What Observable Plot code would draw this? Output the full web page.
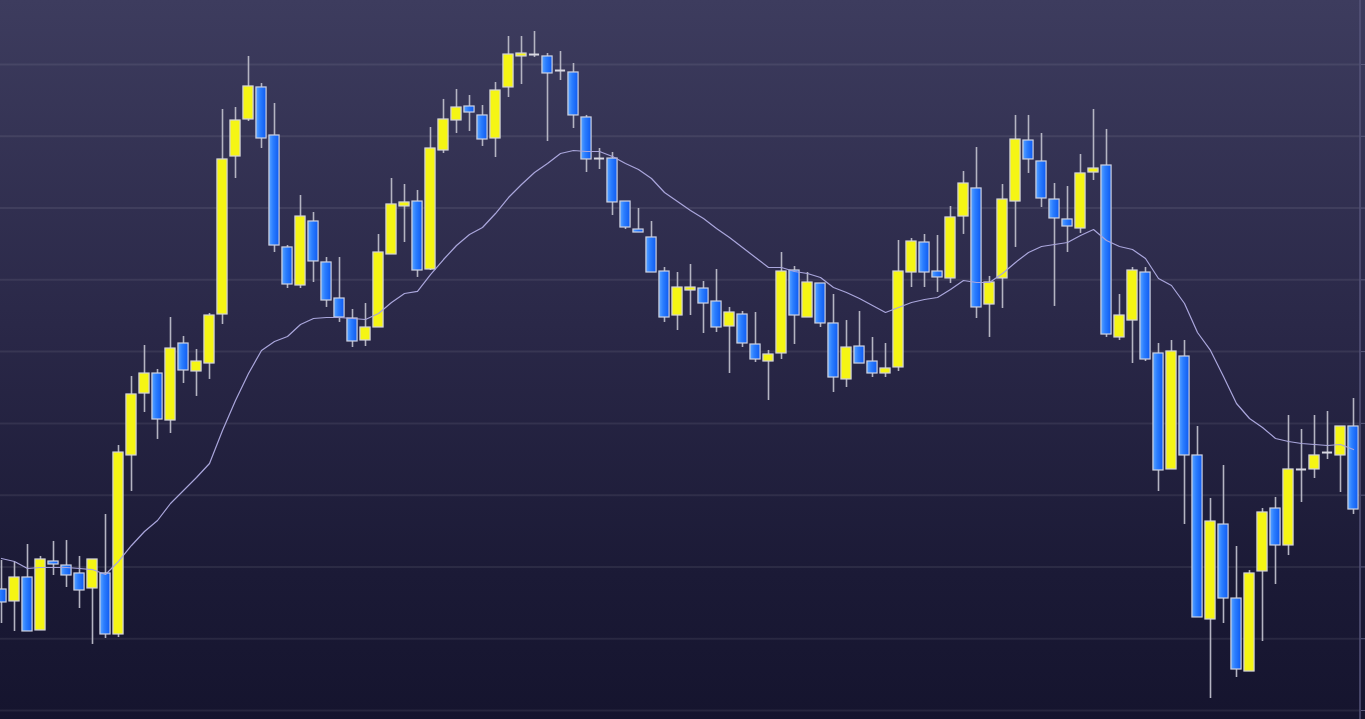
<!DOCTYPE html>
<html>
<head>
<meta charset="utf-8">
<script src="https://cdn.jsdelivr.net/npm/d3@7"></script>
<script src="https://cdn.jsdelivr.net/npm/@observablehq/plot@0.6"></script>
<style>
  html, body { margin: 0; padding: 0; width: 1365px; height: 719px; overflow: hidden;
    background: linear-gradient(to bottom, #3d3c5e 0%, #2a2848 45%, #1b1a36 80%, #15142e 100%); }
  #chart svg { display: block; }
</style>
</head>
<body>
<div id="chart"></div>
<script>
// ---- data (prices) ----
const opens = [
  116.86, 115.19, 118.53, 111.15, 120.76, 120.20, 119.09, 117.00, 119.09, 110.59,
  135.53, 144.16, 146.95, 140.40, 151.13, 147.23, 148.34, 155.17, 177.18, 182.34,
  186.80, 180.11, 164.51, 159.21, 168.13, 162.42, 157.40, 154.61, 151.55, 153.36,
  163.53, 170.22, 170.91, 161.44, 178.02, 182.20, 184.15, 182.90, 179.69, 186.80,
  191.12, 191.39, 191.12, 189.16, 188.89, 182.62, 176.90, 176.90, 170.91, 167.01,
  165.90, 161.16, 155.03, 158.51, 158.79, 156.98, 153.50, 155.17, 150.99, 148.62,
  149.74, 161.30, 154.75, 159.49, 153.92, 146.12, 150.71, 148.62, 146.95, 147.79,
  161.02, 165.20, 161.16, 160.19, 168.82, 172.73, 156.56, 160.19, 170.91, 179.41,
  176.49, 171.19, 168.41, 167.15, 174.95, 175.93, 151.97, 154.33, 161.02, 149.74,
  133.58, 149.32, 135.53, 112.68, 125.91, 115.60, 105.43, 119.37, 128.14, 122.99,
  133.58, 133.58, 135.94, 135.53, 139.57
];
const highs = [
  120.90, 120.62, 123.13, 121.46, 123.55, 123.68, 121.46, 121.04, 127.31, 136.92,
  146.53, 150.85, 147.51, 154.75, 152.11, 150.29, 155.31, 183.73, 184.01, 191.12,
  187.35, 184.57, 164.78, 171.75, 169.38, 163.11, 163.11, 155.87, 156.70, 166.32,
  174.12, 173.28, 172.45, 181.22, 185.13, 186.52, 185.68, 184.29, 187.49, 193.90,
  193.90, 194.60, 191.53, 191.81, 190.14, 182.90, 178.30, 177.74, 170.91, 169.94,
  168.13, 161.72, 161.02, 162.14, 159.77, 161.44, 156.15, 155.59, 155.45, 150.16,
  163.81, 161.86, 161.02, 159.49, 157.96, 154.33, 155.59, 151.97, 151.13, 165.48,
  165.76, 166.32, 166.18, 170.22, 175.09, 178.44, 160.47, 173.28, 182.90, 182.90,
  180.39, 173.42, 173.00, 177.46, 183.73, 180.95, 157.96, 161.72, 161.72, 151.13,
  151.55, 151.55, 139.57, 129.54, 134.13, 122.85, 119.50, 128.14, 129.68, 141.10,
  139.15, 141.10, 141.66, 139.57, 143.47
];
const lows = [
  112.12, 111.01, 111.01, 111.15, 118.81, 117.14, 114.21, 109.20, 110.03, 110.17,
  130.51, 141.52, 137.76, 138.59, 145.56, 143.75, 146.12, 153.78, 174.12, 182.06,
  178.30, 163.81, 158.79, 158.79, 159.63, 156.15, 154.06, 150.57, 150.71, 153.36,
  163.53, 165.20, 160.33, 161.30, 177.60, 180.39, 180.67, 178.58, 177.04, 185.40,
  187.21, 190.98, 179.27, 187.77, 181.08, 174.95, 175.37, 168.96, 167.01, 166.59,
  161.02, 154.06, 152.94, 155.03, 152.52, 152.66, 146.95, 150.57, 148.48, 143.19,
  148.90, 150.99, 154.75, 153.36, 144.30, 145.00, 148.34, 146.39, 146.39, 147.23,
  158.93, 158.93, 158.24, 159.49, 166.32, 154.61, 151.97, 156.01, 164.51, 174.82,
  170.08, 156.29, 163.81, 166.46, 173.84, 151.97, 151.55, 148.34, 148.62, 130.51,
  133.58, 125.91, 112.96, 101.67, 112.12, 104.60, 105.43, 109.61, 117.55, 121.59,
  128.98, 132.32, 134.97, 130.37, 127.31
];
const closes = [
  115.05, 118.53, 111.01, 121.04, 120.34, 118.81, 116.72, 121.04, 110.59, 135.94,
  144.03, 146.95, 140.54, 150.43, 147.37, 148.62, 155.03, 176.77, 182.20, 186.94,
  179.69, 164.78, 159.35, 168.82, 162.56, 157.12, 154.75, 151.41, 153.36, 163.81,
  170.50, 170.78, 161.30, 178.30, 182.34, 184.01, 183.31, 179.55, 186.38, 191.39,
  191.53, 191.39, 188.75, 189.16, 182.90, 176.77, 176.90, 170.78, 167.29, 166.59,
  161.02, 154.75, 158.93, 158.93, 156.70, 153.36, 155.45, 151.13, 148.90, 149.60,
  161.16, 155.03, 159.63, 153.92, 146.39, 150.57, 148.34, 146.95, 147.65, 161.16,
  165.34, 161.02, 160.33, 168.69, 173.42, 156.15, 159.63, 171.19, 179.55, 176.77,
  171.33, 168.55, 167.43, 174.82, 175.51, 152.38, 155.03, 161.30, 148.90, 133.44,
  150.02, 135.53, 112.96, 126.33, 115.60, 105.71, 119.09, 127.59, 122.99, 133.58,
  133.58, 135.53, 135.94, 139.57, 128.00
];
const movingAverage = [
  121.18, 120.76, 119.78, 119.92, 119.92, 119.92, 119.78, 119.64, 118.95, 120.76,
  122.99, 124.94, 126.47, 128.84, 130.65, 132.46, 134.41, 139.01, 143.19, 146.95,
  150.16, 151.41, 152.11, 153.78, 154.61, 154.75, 154.75, 154.61, 154.47, 155.31,
  156.84, 158.10, 158.38, 160.74, 162.83, 164.78, 166.32, 167.29, 169.24, 171.47,
  173.28, 174.95, 176.21, 177.60, 178.02, 177.88, 177.88, 177.18, 176.21, 175.37,
  174.12, 172.17, 170.91, 169.66, 168.55, 167.15, 165.90, 164.51, 163.11, 161.72,
  161.72, 161.16, 160.88, 160.33, 158.93, 158.24, 157.40, 156.43, 155.45, 156.15,
  156.84, 157.26, 157.54, 158.65, 159.91, 159.63, 159.63, 160.88, 162.42, 163.81,
  164.64, 164.92, 165.20, 166.18, 167.01, 165.48, 164.64, 164.23, 162.97, 160.19,
  159.21, 156.70, 152.66, 150.16, 146.53, 142.77, 140.68, 139.43, 137.90, 137.48,
  137.20, 137.06, 136.92, 137.06, 136.36
];
const gridTicks = [100, 110, 120, 130, 140, 150, 160, 170, 180, 190];

// ---- build table ----
const candles = opens.map((o, i) => ({i, open: o, high: highs[i], low: lows[i], close: closes[i]}));
const upCandles = candles.filter(d => d.close > d.open);
const downCandles = candles.filter(d => d.close < d.open);
const flatCandles = candles.filter(d => d.close === d.open);
const maSeries = movingAverage.map((v, i) => ({i, value: v}));
const xDomain = [-0.5, candles.length - 0.5];
const half = 0.39;

const chart = Plot.plot({
  width: 1365,
  height: 719,
  marginLeft: 0,
  marginRight: 5,
  marginTop: 0,
  marginBottom: 0,
  style: {background: "transparent", color: "#5d5b7d", overflow: "visible"},
  x: {type: "linear", domain: xDomain, range: [-5.5, 1359.5], axis: null},
  y: {domain: [100, 190], range: [710, 64], axis: "right", ticks: gridTicks, tickSize: 6,
      tickFormat: () => "", label: null},
  marks: [
    Plot.ruleY(gridTicks, {stroke: "#ffffff", strokeOpacity: 0.075, strokeWidth: 2}),
    Plot.ruleX([xDomain[1]], {stroke: "#56547a", strokeWidth: 1.5}),
    Plot.ruleX(candles, {x: "i", y1: "low", y2: "high", stroke: "#b4b4c2", strokeWidth: 1.6}),
    Plot.rect(upCandles, {x1: d => d.i - half, x2: d => d.i + half, y1: "open", y2: "close",
      fill: "#f5f514", stroke: "#d4d4dc", strokeWidth: 1.2}),
    Plot.rect(downCandles, {x1: d => d.i - half, x2: d => d.i + half, y1: "open", y2: "close",
      fill: "url(#blueBody)", stroke: "#cfd2e0", strokeWidth: 1.2}),
    Plot.ruleY(flatCandles, {y: "close", x1: d => d.i - half, x2: d => d.i + half,
      stroke: "#d8d8e2", strokeWidth: 2}),
    Plot.line(maSeries, {x: "i", y: "value", stroke: "#aaa6dc", strokeWidth: 1.2, curve: "linear"})
  ]
});

const svg = chart.tagName.toLowerCase() === "svg" ? chart : chart.querySelector("svg");
const ns = "http://www.w3.org/2000/svg";
const defs = document.createElementNS(ns, "defs");
const grad = document.createElementNS(ns, "linearGradient");
grad.setAttribute("id", "blueBody");
grad.setAttribute("x1", "0"); grad.setAttribute("x2", "1");
grad.setAttribute("y1", "0"); grad.setAttribute("y2", "0");
[["0%", "#5aa4ff"], ["40%", "#2b7eff"], ["100%", "#0e5af0"]].forEach(([o, c]) => {
  const s = document.createElementNS(ns, "stop");
  s.setAttribute("offset", o); s.setAttribute("stop-color", c);
  grad.appendChild(s);
});
defs.appendChild(grad);
svg.insertBefore(defs, svg.firstChild);
document.getElementById("chart").appendChild(chart);
</script>
</body>
</html>
